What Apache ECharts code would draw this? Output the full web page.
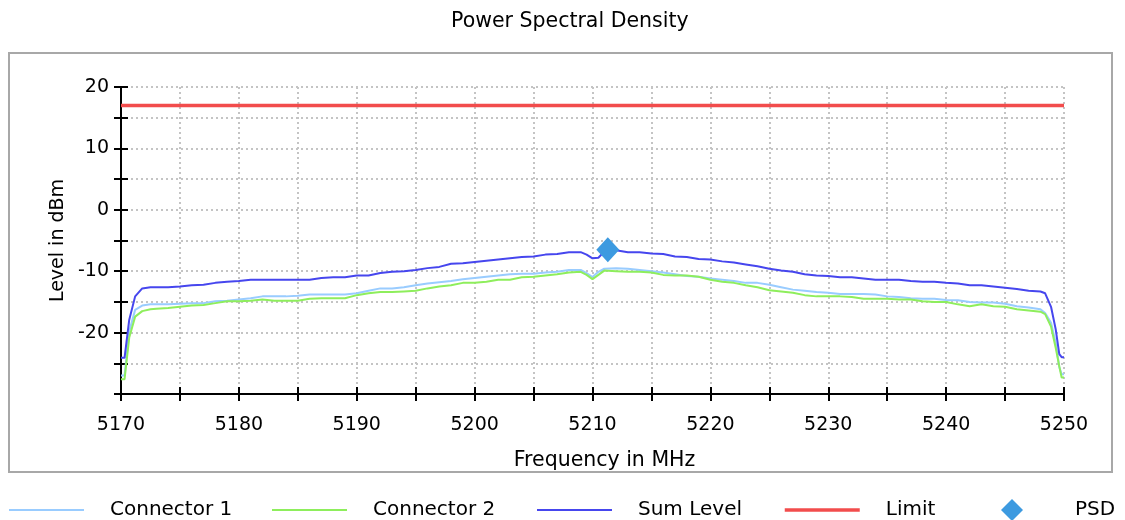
<!DOCTYPE html>
<html>
<head>
<meta charset="utf-8">
<script src="https://cdn.jsdelivr.net/npm/echarts@6/dist/echarts.min.js"></script>
<style>
  html, body { margin: 0; padding: 0; background: #ffffff; }
  #chart { width: 1125px; height: 520px; }
</style>
</head>
<body>
<div id="chart"></div>
<script>
// Measurement frequencies (MHz)
const freqs = [
  5170, 5170.3, 5170.7, 5171.2, 5171.8, 5172.5,
  5173, 5174, 5175, 5176, 5177, 5178, 5179, 5180,
  5181, 5182, 5183, 5184, 5185, 5186, 5187, 5188, 5189, 5190,
  5191, 5192, 5193, 5194, 5195, 5196, 5197, 5198, 5199, 5200,
  5201, 5202, 5203, 5204, 5205, 5206, 5207, 5208, 5209,
  5209.5, 5210, 5210.5,
  5211, 5212, 5213, 5214, 5215, 5216, 5217, 5218, 5219, 5220,
  5221, 5222, 5223, 5224, 5225, 5226, 5227, 5228, 5229, 5230,
  5231, 5232, 5233, 5234, 5235, 5236, 5237, 5238, 5239, 5240,
  5241, 5242, 5243, 5244, 5245, 5246, 5247, 5248,
  5248.4, 5248.9, 5249.3, 5249.6, 5249.8, 5250
];

// Level in dBm for each frequency
const connector1 = [
  -27.0, -27.0, -19.8, -16.3, -15.6, -15.4,
  -15.4, -15.4, -15.3, -15.2, -15.2, -14.9, -14.8, -14.6,
  -14.4, -14.1, -14.1, -14.1, -14.0, -13.8, -13.8, -13.8, -13.8, -13.6,
  -13.2, -12.8, -12.8, -12.6, -12.3, -12.0, -11.8, -11.6, -11.3, -11.1,
  -10.9, -10.7, -10.5, -10.4, -10.4, -10.2, -10.1, -9.8, -9.8,
  -10.3, -10.95, -10.1,
  -9.6, -9.5, -9.6, -9.8, -10.0, -10.2, -10.5, -10.8, -10.9, -11.2,
  -11.4, -11.6, -11.9, -11.9, -12.2, -12.6, -13.0, -13.2, -13.4, -13.5,
  -13.7, -13.7, -13.7, -13.8, -14.1, -14.2, -14.4, -14.5, -14.5, -14.7,
  -14.75, -15.0, -15.1, -15.1, -15.3, -15.7, -15.9, -16.2,
  -16.8, -18.4, -21.7, -25.6, -26.8, -26.8
];

const connector2 = [
  -27.6, -27.6, -20.8, -17.4, -16.5, -16.2,
  -16.1, -16.0, -15.8, -15.6, -15.5, -15.2, -14.9, -14.9,
  -14.8, -14.6, -14.8, -14.8, -14.8, -14.5, -14.4, -14.4, -14.4, -13.9,
  -13.6, -13.4, -13.4, -13.3, -13.2, -12.8, -12.5, -12.3, -11.9, -11.9,
  -11.7, -11.4, -11.4, -11.0, -10.9, -10.7, -10.5, -10.2, -10.1,
  -10.6, -11.3, -10.6,
  -9.9, -10.0, -10.1, -10.1, -10.2, -10.6, -10.7, -10.7, -10.9, -11.4,
  -11.7, -11.9, -12.3, -12.6, -13.1, -13.3, -13.5, -13.9, -14.1, -14.1,
  -14.1, -14.2, -14.5, -14.5, -14.5, -14.6, -14.6, -14.9, -15.0, -15.0,
  -15.4, -15.7, -15.4, -15.7, -15.8, -16.2, -16.4, -16.6,
  -17.0, -19.0, -22.5, -25.5, -27.3, -27.3
];

const sumLevel = [
  -24.1, -24.1, -17.9, -14.1, -12.8, -12.6,
  -12.6, -12.6, -12.5, -12.3, -12.2, -11.9, -11.7, -11.6,
  -11.4, -11.4, -11.4, -11.4, -11.4, -11.4, -11.1, -11.0, -11.0, -10.7,
  -10.7, -10.3, -10.1, -10.0, -9.8, -9.5, -9.3, -8.8, -8.7, -8.5,
  -8.3, -8.1, -7.9, -7.7, -7.6, -7.3, -7.2, -6.9, -6.9,
  -7.3, -7.9, -7.8,
  -6.8, -6.6, -6.9, -6.9, -7.1, -7.2, -7.6, -7.7, -8.0, -8.1,
  -8.4, -8.6, -8.9, -9.2, -9.6, -9.9, -10.1, -10.5, -10.7, -10.8,
  -11.0, -11.0, -11.2, -11.4, -11.4, -11.4, -11.6, -11.7, -11.7, -11.9,
  -12.0, -12.3, -12.3, -12.5, -12.7, -12.9, -13.2, -13.3,
  -13.6, -15.8, -19.5, -23.5, -24.0, -24.0
];

// Regulatory limit across the band
const limitFreqs = [5170, 5250];
const limitLevel = [17, 17];

// Peak power spectral density marker
const psdFreq = [5211.3];
const psdLevel = [-6.5];

// Axis tick labels
const xTickLabels = ['5170', '5180', '5190', '5200', '5210', '5220', '5230', '5240', '5250'];
const yTickLabels = ['20', '10', '0', '-10', '-20'];

const pairs = (xs, ys) => xs.map((x, i) => [x, ys[i]]);

const FONT = 'DejaVu Sans';
const AXIS_COLOR = '#000000';

const xBase = {
  type: 'value', min: 5170, max: 5250, interval: 5,
  position: 'bottom'
};
const yBase = {
  type: 'value', min: -30, max: 20, interval: 5,
  position: 'left'
};

// One legend block per entry so each sits at its own spot in the bottom row
const legendItem = (name, left, lineWidth, extra) => Object.assign({
  data: [name],
  left: left,
  top: 500,
  orient: 'horizontal',
  padding: 0,
  itemWidth: 75,
  itemHeight: 14,
  selectedMode: false,
  itemStyle: { opacity: 0 },
  lineStyle: { width: lineWidth },
  textStyle: { fontFamily: FONT, fontSize: 20, color: '#000', padding: [0, 0, 0, 21] }
}, extra || {});

const option = {
  backgroundColor: '#ffffff',
  animation: false,
  title: {
    text: 'Power Spectral Density',
    left: 451,
    top: 11,
    padding: 0,
    textStyle: { fontFamily: FONT, fontSize: 20.5, fontWeight: 'normal', color: '#000' }
  },
  graphic: [{
    type: 'rect',
    shape: { x: 9, y: 53, width: 1103, height: 419 },
    style: { fill: null, stroke: '#a8a8a8', lineWidth: 2 },
    silent: true,
    z: -1
  }],
  legend: [
    legendItem('Connector 1', 8, 2),
    legendItem('Connector 2', 271, 2),
    legendItem('Sum Level', 536, 2),
    legendItem('Limit', 783, 3.5),
    legendItem('PSD', 1001, 2, {
      itemWidth: 22, itemHeight: 22, top: 499,
      itemStyle: { opacity: 1 },
      textStyle: { fontFamily: FONT, fontSize: 20, color: '#000', padding: [0, 0, 0, 47] }
    })
  ],
  grid: { left: 121, right: 61, top: 87, bottom: 126, containLabel: false },
  xAxis: [
    Object.assign({}, xBase, {
      name: 'Frequency in MHz',
      nameLocation: 'middle',
      nameGap: 56,
      nameTextStyle: { fontFamily: FONT, fontSize: 20.5, color: '#000', padding: [0, 0, 0, 24] },
      axisLine: { show: true, onZero: false, lineStyle: { color: AXIS_COLOR, width: 2 } },
      axisTick: { show: true, length: 7, lineStyle: { color: AXIS_COLOR, width: 2 } },
      axisLabel: {
        margin: 22,
        fontFamily: FONT, fontSize: 19, color: '#000',
        formatter: v => {
          const s = String(Math.round(v));
          return xTickLabels.indexOf(s) >= 0 ? s : '';
        }
      },
      splitLine: { show: true, lineStyle: { color: '#c4c4c4', width: 2, type: [2, 3] } }
    }),
    Object.assign({}, xBase, {
      axisLine: { show: false, onZero: false },
      axisTick: { show: true, inside: true, length: 7, lineStyle: { color: AXIS_COLOR, width: 2 } },
      axisLabel: { show: false },
      splitLine: { show: false }
    })
  ],
  yAxis: [
    Object.assign({}, yBase, {
      name: 'Level in dBm',
      nameLocation: 'middle',
      nameRotate: 90,
      nameGap: 46,
      nameTextStyle: { fontFamily: FONT, fontSize: 19, color: '#000' },
      axisLine: { show: true, onZero: false, lineStyle: { color: AXIS_COLOR, width: 2 } },
      axisTick: { show: true, length: 7, lineStyle: { color: AXIS_COLOR, width: 2 } },
      axisLabel: {
        margin: 12,
        fontFamily: FONT, fontSize: 19, color: '#000',
        formatter: v => {
          const s = String(Math.round(v));
          return yTickLabels.indexOf(s) >= 0 ? s : '';
        }
      },
      splitLine: { show: true, lineStyle: { color: '#c4c4c4', width: 2, type: [2, 3] } }
    }),
    Object.assign({}, yBase, {
      axisLine: { show: false, onZero: false },
      axisTick: { show: true, inside: true, length: 7, lineStyle: { color: AXIS_COLOR, width: 2 } },
      axisLabel: { show: false },
      splitLine: { show: false }
    })
  ],
  series: [
    {
      name: 'Connector 1', type: 'line', symbol: 'none',
      data: pairs(freqs, connector1),
      lineStyle: { color: '#99ccff', width: 2 }, itemStyle: { color: '#99ccff' },
      z: 3
    },
    {
      name: 'Connector 2', type: 'line', symbol: 'none',
      data: pairs(freqs, connector2),
      lineStyle: { color: '#8eee5c', width: 2 }, itemStyle: { color: '#8eee5c' },
      z: 4
    },
    {
      name: 'Sum Level', type: 'line', symbol: 'none',
      data: pairs(freqs, sumLevel),
      lineStyle: { color: '#4646ee', width: 2 }, itemStyle: { color: '#4646ee' },
      z: 5
    },
    {
      name: 'Limit', type: 'line', symbol: 'none',
      data: pairs(limitFreqs, limitLevel),
      lineStyle: { color: '#f24c4c', width: 3.5 }, itemStyle: { color: '#f24c4c' },
      z: 6
    },
    {
      name: 'PSD', type: 'scatter', symbol: 'diamond', symbolSize: [23, 25],
      data: pairs(psdFreq, psdLevel),
      itemStyle: { color: '#3d9ae0', opacity: 1 },
      z: 7
    }
  ]
};

const chart = echarts.init(document.getElementById('chart'), null, { renderer: 'canvas' });
chart.setOption(option);
</script>
</body>
</html>
